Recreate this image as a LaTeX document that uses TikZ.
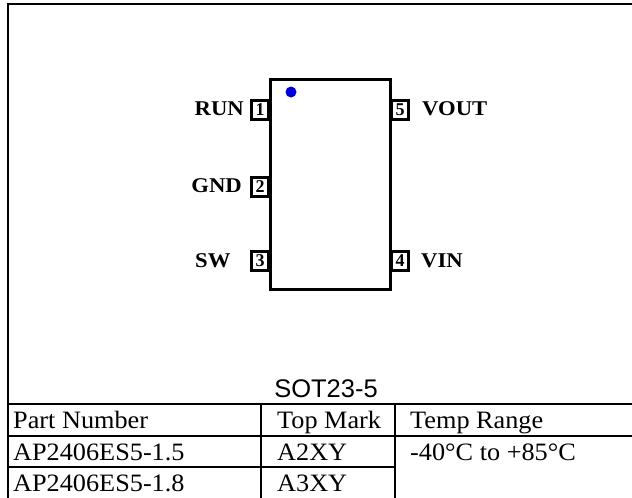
\documentclass[tikz,border=0pt]{standalone}
\usepackage{fontspec}
\setmainfont{Liberation Serif}
\newfontfamily\sotfont{Liberation Sans}
\begin{document}
\begin{tikzpicture}[x=1pt,y=-1pt,
  frame/.style={line width=2pt},
  pinbox/.style={draw,line width=2.4pt,minimum width=17pt,minimum height=19pt,inner sep=0pt,
    font=\bfseries\fontsize{18}{18}\selectfont},
  pinlabel/.style={inner sep=0pt,font=\bfseries\fontsize{21}{22}\selectfont},
  celltext/.style={anchor=base west,inner sep=0pt,font=\fontsize{25}{28}\selectfont}]
\useasboundingbox (0,0) rectangle (632,498);
\clip (0,0) rectangle (632,498);
% outer frame
\draw[frame] (640,4) -- (8,4) -- (8,505);
% chip body
\node[draw,line width=2.6pt,minimum width=120pt,minimum height=210pt,inner sep=0pt] (chip) at (330.5,184.5) {};
\fill[blue!85!black] (291,92) circle (5.5);
% pins
\node[pinbox] (p1) at (260,110) {1};
\node[pinbox] (p2) at (260,187) {2};
\node[pinbox] (p3) at (260,261) {3};
\node[pinbox] (p5) at (400,110) {5};
\node[pinbox] (p4) at (400,261) {4};
% pin labels
\node[pinlabel,anchor=east] (lrun) at (244,109) {\scalebox{1.08}[1]{RUN}};
\node[pinlabel,anchor=east] (lgnd) at (242,186) {\scalebox{1.08}[1]{GND}};
\node[pinlabel,anchor=west] (lsw) at (195,261) {\scalebox{1.08}[1]{SW}};
\node[pinlabel,anchor=west] (lvout) at (422,109) {\scalebox{1.08}[1]{VOUT}};
\node[pinlabel,anchor=west] (lvin) at (421,261) {\scalebox{1.08}[1]{VIN}};
% package name
\node[anchor=base,inner sep=0pt,font=\sotfont\fontsize{25.5}{28}\selectfont] (pkg) at (326,397) {SOT23-5};
% table
\draw[frame] (8,404) -- (640,404);
\draw[frame] (8,436) -- (640,436);
\draw[frame] (8,467) -- (395,467);
\draw[frame] (261,404) -- (261,505);
\draw[frame] (395,404) -- (395,505);
\node[celltext] (h1) at (13,428) {\scalebox{1.05}[1]{Part Number}};
\node[celltext] (h2) at (277,428) {\scalebox{1.05}[1]{Top Mark}};
\node[celltext] (h3) at (410,428) {\scalebox{1.05}[1]{Temp Range}};
\node[celltext] (r11) at (13,460) {\scalebox{1.05}[1]{AP2406ES5-1.5}};
\node[celltext] (r12) at (277,460) {\scalebox{1.05}[1]{A2XY}};
\node[celltext] (r13) at (410,460) {\scalebox{1.05}[1]{-40°C to +85°C}};
\node[celltext] (r21) at (13,491) {\scalebox{1.05}[1]{AP2406ES5-1.8}};
\node[celltext] (r22) at (277,491) {\scalebox{1.05}[1]{A3XY}};
\end{tikzpicture}
\end{document}
